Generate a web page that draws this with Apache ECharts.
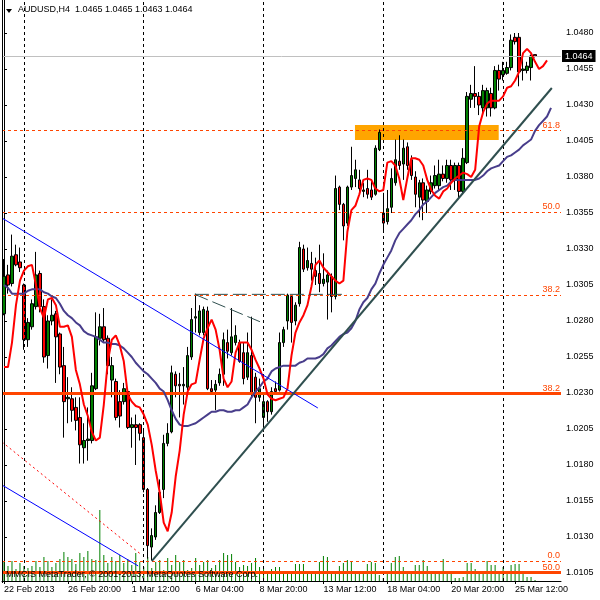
<!DOCTYPE html>
<html><head><meta charset="utf-8">
<script src="https://cdn.jsdelivr.net/npm/echarts@6/dist/echarts.min.js"></script>
<style>html,body{margin:0;padding:0;background:#fff}#c{width:600px;height:600px}</style>
</head><body><div id="c"></div>
<script>
// ---------- data (AUDUSD H4) ----------
const symbolName = 'AUDUSD,H4';
const xTickLabels = ['22 Feb 2013','26 Feb 20:00','1 Mar 12:00','6 Mar 04:00','8 Mar 20:00','13 Mar 12:00','18 Mar 04:00','20 Mar 20:00','25 Mar 12:00'];
const xTickStep = 16;
const weekSeparators = [5, 35, 65, 95, 125];
const priceTicks = [1.0105,1.0130,1.0155,1.0180,1.0205,1.0230,1.0255,1.0280,1.0305,1.0330,1.0355,1.0380,1.0405,1.0430,1.0455,1.0480];

const opens = [1.0285,1.0312,1.0306,1.0326,1.0321,1.0305,1.0267,1.0276,1.0290,1.0313,
1.0290,1.0256,1.0280,1.0285,1.0271,1.0249,1.0226,1.0226,1.0220,1.0213,
1.0192,1.0197,1.0197,1.0233,1.0268,1.0276,1.0268,1.0239,1.0238,1.0224,
1.0224,1.0231,1.0206,1.0208,1.0208,1.0199,1.0163,1.0123,1.0130,1.0147,
1.0163,1.0195,1.0203,1.0243,1.0236,1.0235,1.0234,1.0255,1.0282,1.0272,
1.0272,1.0287,1.0233,1.0232,1.0237,1.0243,1.0265,1.0258,1.0265,1.0265,
1.0258,1.0241,1.0256,1.0241,1.0227,1.0213,1.0224,1.0217,1.0233,1.0232,
1.0265,1.0280,1.0297,1.0280,1.0292,1.0330,1.0317,1.0320,1.0315,1.0313,
1.0306,1.0307,1.0311,1.0297,1.0373,1.0361,1.0348,1.0373,1.0379,1.0378,
1.0370,1.0372,1.0371,1.0368,1.0399,1.0355,1.0349,1.0359,1.0376,1.0391,
1.0389,1.0401,1.0392,1.0380,1.0366,1.0376,1.0363,1.0370,1.0374,1.0374,
1.0382,1.0379,1.0388,1.0378,1.0388,1.0370,1.0390,1.0434,1.0438,1.0436,
1.0428,1.0428,1.0438,1.0428,1.0454,1.0451,1.0452,1.0456,1.0477,1.0477,
1.0454,1.0454,1.0456,1.0465];
const highs = [1.0323,1.0319,1.0340,1.0333,1.0331,1.0306,1.0282,1.0295,1.0328,1.0315,
1.0295,1.0284,1.0295,1.0287,1.0272,1.0262,1.0241,1.0234,1.0227,1.0227,
1.0209,1.0220,1.0244,1.0286,1.0285,1.0289,1.0270,1.0255,1.0240,1.0232,
1.0237,1.0233,1.0213,1.0215,1.0209,1.0204,1.0164,1.0136,1.0152,1.0170,
1.0201,1.0209,1.0249,1.0245,1.0244,1.0248,1.0262,1.0289,1.0299,1.0291,
1.0290,1.0290,1.0239,1.0239,1.0247,1.0272,1.0274,1.0289,1.0277,1.0267,
1.0265,1.0272,1.0283,1.0244,1.0240,1.0230,1.0225,1.0234,1.0238,1.0272,
1.0276,1.0299,1.0298,1.0293,1.0335,1.0333,1.0331,1.0328,1.0324,1.0333,
1.0327,1.0315,1.0313,1.0381,1.0374,1.0362,1.0374,1.0401,1.0392,1.0385,
1.0376,1.0385,1.0378,1.0402,1.0413,1.0369,1.0371,1.0386,1.0406,1.0409,
1.0406,1.0404,1.0395,1.0384,1.0378,1.0379,1.0374,1.0381,1.0388,1.0392,
1.0388,1.0392,1.0392,1.0390,1.0390,1.0400,1.0439,1.0444,1.0457,1.0439,
1.0444,1.0442,1.0442,1.0457,1.0458,1.0460,1.0460,1.0479,1.0480,1.0480,
1.0466,1.0460,1.0465,1.0465];
const lows = [1.0284,1.0299,1.0304,1.0318,1.0314,1.0260,1.0262,1.0274,1.0288,1.0286,
1.0251,1.0247,1.0277,1.0237,1.0243,1.0199,1.0209,1.0210,1.0204,1.0181,
1.0181,1.0183,1.0195,1.0232,1.0263,1.0265,1.0243,1.0227,1.0211,1.0206,
1.0222,1.0205,1.0192,1.0180,1.0197,1.0161,1.0115,1.0114,1.0128,1.0146,
1.0157,1.0193,1.0202,1.0227,1.0213,1.0222,1.0232,1.0253,1.0272,1.0270,
1.0270,1.0232,1.0229,1.0218,1.0235,1.0235,1.0254,1.0256,1.0263,1.0251,
1.0236,1.0239,1.0227,1.0209,1.0224,1.0203,1.0210,1.0215,1.0229,1.0231,
1.0262,1.0274,1.0265,1.0277,1.0290,1.0314,1.0315,1.0308,1.0305,1.0300,
1.0304,1.0281,1.0286,1.0295,1.0357,1.0336,1.0346,1.0371,1.0373,1.0368,
1.0366,1.0365,1.0364,1.0367,1.0398,1.0342,1.0347,1.0355,1.0374,1.0385,
1.0378,1.0385,1.0378,1.0359,1.0352,1.0350,1.0355,1.0368,1.0372,1.0371,
1.0377,1.0376,1.0371,1.0371,1.0365,1.0368,1.0389,1.0428,1.0428,1.0423,
1.0423,1.0422,1.0422,1.0427,1.0440,1.0447,1.0451,1.0454,1.0472,1.0443,
1.0447,1.0452,1.0447,1.0463];
const closes = [1.0311,1.0305,1.0325,1.0319,1.0317,1.0267,1.0279,1.0292,1.0312,1.0290,
1.0255,1.0280,1.0284,1.0269,1.0248,1.0224,1.0227,1.0218,1.0211,1.0194,
1.0197,1.0198,1.0235,1.0269,1.0276,1.0267,1.0249,1.0249,1.0213,1.0214,
1.0233,1.0206,1.0208,1.0206,1.0202,1.0163,1.0124,1.0131,1.0147,1.0161,
1.0195,1.0202,1.0244,1.0235,1.0235,1.0236,1.0256,1.0281,1.0283,1.0287,
1.0288,1.0233,1.0231,1.0236,1.0243,1.0267,1.0259,1.0269,1.0270,1.0252,
1.0240,1.0258,1.0229,1.0227,1.0233,1.0224,1.0217,1.0231,1.0231,1.0265,
1.0274,1.0298,1.0279,1.0291,1.0331,1.0316,1.0322,1.0316,1.0311,1.0306,
1.0309,1.0312,1.0297,1.0372,1.0361,1.0346,1.0373,1.0381,1.0385,1.0372,
1.0371,1.0368,1.0366,1.0400,1.0411,1.0348,1.0358,1.0379,1.0392,1.0388,
1.0400,1.0388,1.0381,1.0368,1.0376,1.0364,1.0371,1.0376,1.0381,1.0382,
1.0379,1.0388,1.0378,1.0388,1.0370,1.0393,1.0436,1.0438,1.0436,1.0430,
1.0440,1.0440,1.0428,1.0454,1.0448,1.0454,1.0456,1.0475,1.0474,1.0453,
1.0455,1.0457,1.0464,1.0464];
const volumes = [20,15,20,12,18,15,13,15,20,14,24,20,14,18,22,29,24,22,17,28,
24,30,22,21,71,26,18,24,20,26,18,22,16,28,19,14,24,13,19,21,
11,23,16,26,19,21,11,13,23,16,19,21,13,16,21,28,26,27,19,14,
16,15,18,23,14,13,10,12,14,14,9,9,9,17,17,17,9,8,9,19,
25,24,10,9,15,18,21,19,9,9,9,17,19,18,6,3,7,18,24,25,
14,8,8,16,16,21,15,8,7,8,22,7,8,3,3,4,18,18,12,8,
7,20,16,16,8,14,8,16,17,17,10,4,4,1];
const maFast = [1.0248,1.0248,1.0265,1.0291,1.0308,1.0315,1.0318,1.0319,1.0305,1.0289,
1.0282,1.0295,1.0296,1.0291,1.0276,1.0276,1.0277,1.0269,1.0246,1.0236,
1.0222,1.0214,1.0203,1.0197,1.0199,1.0222,1.0252,1.0267,1.0270,1.0263,
1.0252,1.0229,1.0224,1.0221,1.0220,1.0215,1.0208,1.0194,1.0176,1.0161,
1.0140,1.0134,1.0147,1.0172,1.0190,1.0215,1.0231,1.0236,1.0237,1.0253,
1.0268,1.0275,1.0281,1.0274,1.0260,1.0240,1.0234,1.0238,1.0258,1.0265,
1.0265,1.0265,1.0260,1.0253,1.0247,1.0240,1.0229,1.0226,1.0225,1.0226,
1.0227,1.0233,1.0256,1.0272,1.0279,1.0284,1.0291,1.0304,1.0319,1.0322,
1.0317,1.0314,1.0311,1.0308,1.0306,1.0308,1.0342,1.0357,1.0360,1.0368,
1.0378,1.0379,1.0378,1.0372,1.0370,1.0371,1.0390,1.0391,1.0388,1.0379,
1.0364,1.0379,1.0393,1.0393,1.0392,1.0388,1.0378,1.0371,1.0367,1.0365,
1.0370,1.0372,1.0376,1.0379,1.0381,1.0383,1.0382,1.0380,1.0385,1.0415,
1.0425,1.0431,1.0433,1.0433,1.0433,1.0436,1.0442,1.0443,1.0447,1.0453,
1.0466,1.0469,1.0466,1.0460,1.0455,1.0457,1.0461];
const maSlow = [1.0305,1.0303,1.0299,1.0299,1.0299,1.0299,1.0301,1.0302,1.0302,1.0302,
1.0300,1.0299,1.0297,1.0296,1.0292,1.0287,1.0284,1.0282,1.0279,1.0277,
1.0273,1.0271,1.0270,1.0269,1.0267,1.0265,1.0265,1.0264,1.0264,1.0263,
1.0261,1.0258,1.0255,1.0251,1.0248,1.0245,1.0243,1.0240,1.0237,1.0233,
1.0231,1.0225,1.0218,1.0212,1.0208,1.0207,1.0207,1.0208,1.0209,1.0211,
1.0213,1.0215,1.0217,1.0217,1.0218,1.0218,1.0217,1.0217,1.0218,1.0218,
1.0220,1.0222,1.0227,1.0231,1.0234,1.0238,1.0240,1.0245,1.0247,1.0248,
1.0249,1.0249,1.0249,1.0249,1.0251,1.0252,1.0254,1.0254,1.0254,1.0255,
1.0257,1.0261,1.0263,1.0266,1.0269,1.0271,1.0272,1.0275,1.0280,1.0288,
1.0293,1.0296,1.0302,1.0306,1.0313,1.0319,1.0324,1.0329,1.0336,1.0341,
1.0344,1.0347,1.0350,1.0354,1.0357,1.0361,1.0363,1.0366,1.0369,1.0371,
1.0373,1.0374,1.0377,1.0378,1.0378,1.0378,1.0378,1.0378,1.0378,1.0379,
1.0381,1.0384,1.0386,1.0387,1.0388,1.0391,1.0394,1.0395,1.0397,1.0399,
1.0402,1.0404,1.0406,1.0412,1.0416,1.0419,1.0422,1.0428];
const bidPrice = 1.0464;
const fibDashedLevels = ['0.0','38.2','50.0','61.8'];
const fibDashedPrices = [1.01133,1.02977,1.03555,1.04122];
const fibSolidLevels = ['38.2','50.0'];
const fibSolidPrices = [1.02295,1.01052];
const zoneBars = [87.9, 123.9];
const zonePrices = [1.04161, 1.04057];
const trendBlueUpper = [[-0.5,1.03515],[78.6,1.02196]];
const trendBlueLower = [[-0.5,1.01661],[33.6,1.01099]];
const trendRedDotted = [[-0.5,1.01960],[34.5,1.01175]];
const trendSupport = [[37.0,1.01133],[137.2,1.04418]];
const channelTop = [[47.8,1.02985],[85.9,1.02985]];
const channelSlope = [[47.8,1.02985],[64.1,1.02795]];
const copyright = 'MMCIS MetaTrader, \u00A9 2001-2013, MetaQuotes Software Corp.';

// ---------- chart ----------
const FONT = 'Liberation Sans';
const FS = 9;
const nCat = 140;
const categories = Array.from({length: nCat}, (_, i) => String(i));
const candleData = opens.map((o, i) => [o, closes[i], lows[i], highs[i]]);
const yMin = 1.009944, yMax = 1.050292;
const lastIdx = opens.length - 1;
const headline = symbolName + '  ' + [opens[lastIdx], highs[lastIdx], lows[lastIdx], closes[lastIdx]].map(v => v.toFixed(4)).join(' ');
const tickShown = (idx) => idx % xTickStep === 0 && idx / xTickStep < xTickLabels.length;

function seg(data, color, width, type, z) {
  return {type: 'line', xAxisIndex: 1, yAxisIndex: 0, data: data, showSymbol: false, symbol: 'none',
    silent: true, z: z, lineStyle: {color: color, width: width, type: type}, clip: true};
}

const chart = echarts.init(document.getElementById('c'), null, {renderer: 'canvas'});
chart.setOption({
  animation: false,
  backgroundColor: '#fff',
  grid: {left: 2, right: 39, top: 0, bottom: 19, containLabel: false},
  xAxis: [
    {type: 'category', data: categories, boundaryGap: true,
      axisLine: {show: true, lineStyle: {color: '#000', width: 1}},
      axisTick: {show: true, alignWithLabel: true, interval: tickShown, length: 3, lineStyle: {color: '#000'}},
      axisLabel: {interval: tickShown, align: 'left', margin: 4, color: '#000', fontFamily: FONT, fontSize: FS,
        formatter: (v, i) => xTickLabels[Math.round(i / xTickStep)] || ''},
      splitLine: {show: false}},
    {type: 'value', min: -0.5, max: nCat - 0.5, show: false}
  ],
  yAxis: [
    {type: 'value', position: 'right', min: yMin, max: yMax, scale: true,
      axisLine: {show: true, lineStyle: {color: '#000', width: 1}},
      axisTick: {show: true, customValues: priceTicks, length: 3, lineStyle: {color: '#000'}},
      axisLabel: {customValues: priceTicks, formatter: v => v.toFixed(4), margin: 5, color: '#000', fontFamily: FONT, fontSize: FS},
      splitLine: {show: false}},
    {type: 'value', min: 0, max: 581, show: false}
  ],
  series: [
    {type: 'line', xAxisIndex: 1, yAxisIndex: 0, data: [], z: 1, silent: true,
      markArea: {silent: true, precision: 6, itemStyle: {color: '#FFA500', opacity: 1},
        data: [[{coord: [zoneBars[0], zonePrices[0]]}, {coord: [zoneBars[1], zonePrices[1]]}]]},
      markLine: {silent: true, precision: 6, symbol: 'none', label: {show: false},
        lineStyle: {color: '#000', width: 1, type: [3, 3]},
        data: weekSeparators.map(b => ({xAxis: b}))}},
    {type: 'bar', name: 'Volume', xAxisIndex: 0, yAxisIndex: 1, data: volumes, barWidth: 1, z: 2, silent: true,
      itemStyle: {color: '#008000'}},
    {type: 'candlestick', xAxisIndex: 0, yAxisIndex: 0, data: candleData, barWidth: 3, z: 3, silent: true,
      itemStyle: {color: '#008000', color0: '#FF0000', borderColor: '#000', borderColor0: '#000', borderWidth: 1}},
    {type: 'line', xAxisIndex: 1, yAxisIndex: 0, data: [], z: 4, silent: true,
      markLine: {silent: true, precision: 6, symbol: 'none',
        data: [
          ...fibDashedPrices.map((p, i) => ({yAxis: p, name: fibDashedLevels[i],
            lineStyle: {color: '#FF4500', width: 1, type: [3, 3]},
            label: {show: true, position: 'insideEndTop', formatter: fibDashedLevels[i], color: '#FF4500', fontFamily: FONT, fontSize: FS, distance: 1}})),
          ...fibSolidPrices.map((p, i) => ({yAxis: p, name: fibSolidLevels[i],
            lineStyle: {color: '#FF4500', width: 3, type: 'solid'},
            label: {show: true, position: 'insideEndTop', formatter: fibSolidLevels[i], color: '#FF4500', fontFamily: FONT, fontSize: FS, distance: 1}})),
          {yAxis: bidPrice, lineStyle: {color: '#C0C0C0', width: 1, type: 'solid'},
            label: {show: true, position: 'end', formatter: bidPrice.toFixed(4), color: '#fff', backgroundColor: '#000',
              padding: [2, 3, 1, 3], fontFamily: FONT, fontSize: FS, distance: 1}}
        ]}},
    {type: 'line', name: 'MA slow', xAxisIndex: 0, yAxisIndex: 0, data: maSlow, showSymbol: false, symbol: 'none', z: 5, silent: true,
      lineStyle: {color: '#483D8B', width: 2}},
    {type: 'line', name: 'MA fast', xAxisIndex: 0, yAxisIndex: 0, data: maFast, showSymbol: false, symbol: 'none', z: 5, silent: true,
      lineStyle: {color: '#FF0000', width: 2}},
    seg(trendBlueUpper, '#0000FF', 1, 'solid', 6),
    seg(trendBlueLower, '#0000FF', 1, 'solid', 6),
    seg(trendRedDotted, '#FF0000', 1, [2, 3], 6),
    seg(trendSupport, '#2F4F4F', 2, 'solid', 6),
    seg(channelTop, '#2F4F4F', 1, [14, 5], 6),
    seg(channelSlope, '#2F4F4F', 1, [14, 5], 6)
  ],
  graphic: [
    {type: 'line', z: 50, silent: true, shape: {x1: 2.5, y1: 0, x2: 2.5, y2: 583}, style: {stroke: '#000', lineWidth: 1}},
    {type: 'polygon', z: 100, silent: true, shape: {points: [[6, 9], [12, 9], [9, 13]]}, style: {fill: '#000'}},
    {type: 'text', z: 100, silent: true, left: 18, top: 5, style: {text: headline, fill: '#000', font: FS + 'px "' + FONT + '"'}},
    {type: 'text', z: 100, silent: true, left: 6, top: 570, style: {text: copyright, fill: '#000', font: FS + 'px "' + FONT + '"'}}
  ]
});
</script></body></html>
